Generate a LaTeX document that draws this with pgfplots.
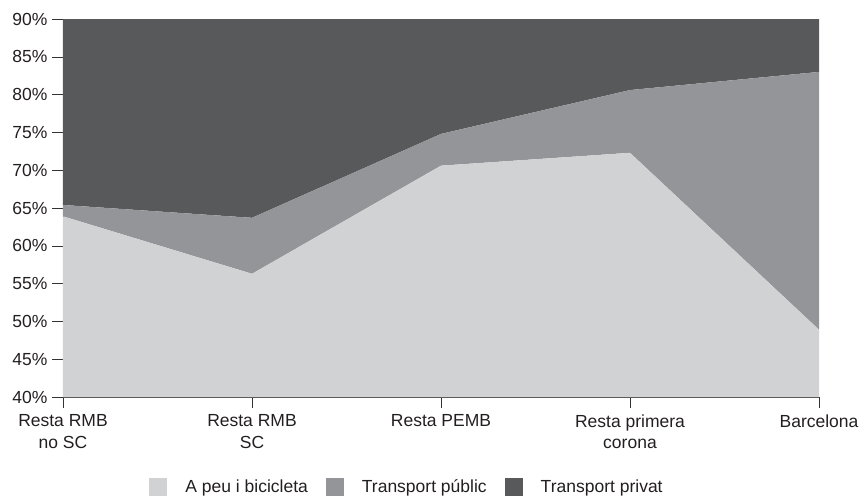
\documentclass[border=0pt]{standalone}
\usepackage{pgfplots}
\pgfplotsset{compat=1.18}
\usepackage{fontspec}
\setmainfont{Liberation Sans}
\definecolor{cA}{HTML}{D1D2D4}
\definecolor{cB}{HTML}{939598}
\definecolor{cC}{HTML}{58595B}
\definecolor{txt}{HTML}{231F20}
\begin{document}
\begin{tikzpicture}
\path (-63pt,-102pt) rectangle (800pt,397pt);
\begin{axis}[
  at={(0pt,0pt)}, anchor=south west,
  scale only axis, width=756pt, height=378pt,
  xmin=0, xmax=4, ymin=40, ymax=90,
  stack plots=y,
  axis lines*=left,
  axis line style={draw=black!70, line width=0.6pt, -},
  xtick={0,1,2,3,4},
  xticklabels={{Resta RMB\\no SC},{Resta RMB\\SC},{Resta PEMB},{Resta primera\\corona},{Barcelona}},
  ytick={40,45,...,90},
  yticklabel={\pgfmathprintnumber{\tick}\%},
  /pgf/number format/assume math mode=true,
  tick align=outside,
  major tick length=11pt,
  tick style={draw=black!80, line width=0.6pt},
  xticklabel style={align=center, font=\fontsize{17.5}{21.5}\selectfont, text=txt, anchor=north, yshift=-3pt},
  yticklabel style={font=\fontsize{17.5}{21}\selectfont, text=txt, xshift=-1pt},
  legend style={at={(0.455,-0.238)}, anchor=center, draw=none, fill=none,
    font=\fontsize{17.5}{21}\selectfont, text=txt, column sep=16pt,
    /tikz/every even column/.append style={column sep=16pt}},
  legend columns=3,
  legend image code/.code={\fill[#1] (0pt,-8.5pt) rectangle (18pt,9.5pt);},
  clip=true,
]
\addplot[fill=cA, draw=none] coordinates {(0,63.9) (1,56.3) (2,70.6) (3,72.3) (4,48.9)} \closedcycle;
\addlegendentry{A peu i bicicleta}
\addplot[fill=cB, draw=none] coordinates {(0,1.5) (1,7.4) (2,4.2) (3,8.3) (4,34.1)} \closedcycle;
\addlegendentry{Transport públic}
\addplot[fill=cC, draw=none] coordinates {(0,34.6) (1,36.3) (2,25.2) (3,19.4) (4,17.0)} \closedcycle;
\addlegendentry{Transport privat}
\end{axis}
\end{tikzpicture}
\end{document}
